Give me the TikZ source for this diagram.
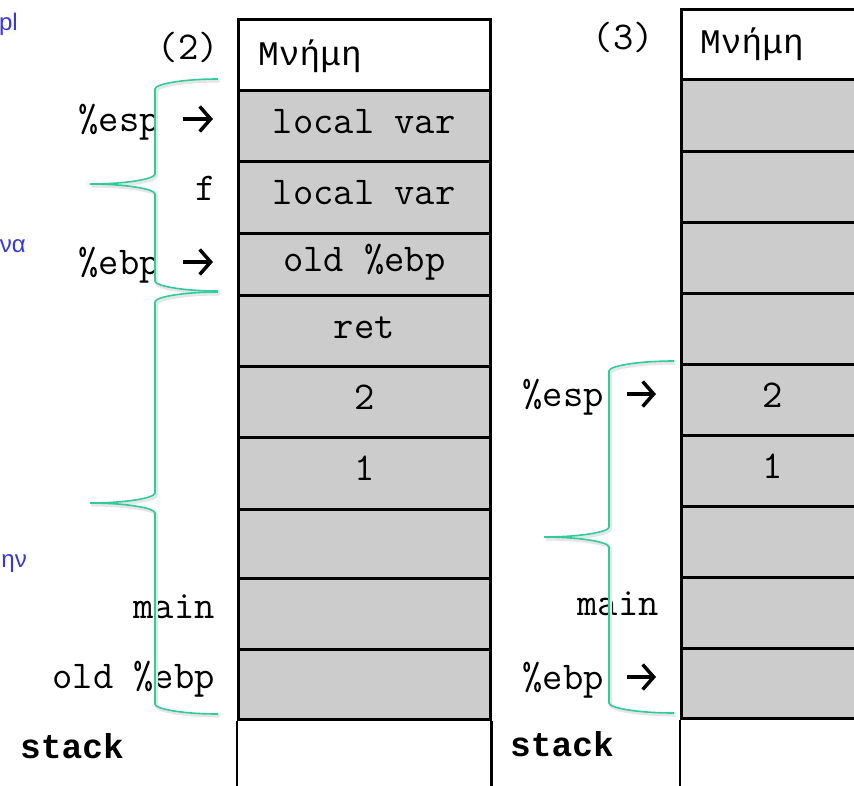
\documentclass[tikz,border=0pt]{standalone}
\usepackage{fontspec}
\usetikzlibrary{arrows.meta}

\newfontfamily\mono{Liberation Mono}
\newfontfamily\sidesans{Liberation Sans}
\newcommand\memfont{\ttfamily\fontsize{39.4}{44}\selectfont}
\newcommand\grfont{\mono\fontsize{34.5}{40}\selectfont}
\newcommand\boldfont{\mono\bfseries\fontsize{34.5}{40}\selectfont}
\newcommand\sidefont{\sidesans\fontsize{24}{28}\selectfont}

\definecolor{cellgray}{RGB}{204,204,204}
\definecolor{bracegreen}{RGB}{46,204,155}
\definecolor{linkblue}{RGB}{56,56,212}

\tikzset{
  cell/.style={draw, line width=2.5pt, fill=cellgray, anchor=north west,
    minimum width=252pt, inner sep=0pt, font=\memfont,
    text height=15pt, text depth=0pt},
  hdr/.style={cell, fill=white},
  lbl/.style={font=\memfont, inner sep=0pt, text height=24pt, text depth=0pt},
  side/.style={font=\sidefont, text=linkblue, inner sep=0pt},
  ptr/.style={-{Straight Barb[length=11pt,width=25pt,line width=3.5pt]}, line width=3.5pt,
    shorten <=23pt, shorten >=24pt},
  brace/.style={draw=bracegreen, line width=1.6pt,
    preaction={draw=black!10, line width=3pt, transform canvas={xshift=1.5pt,yshift=-2pt}}}
}

\begin{document}
\begin{tikzpicture}[x=1pt, y=-1pt]
  \useasboundingbox[fill=white] (0,0) rectangle (854,785);
  \clip (0,0) rectangle (854,785);

  % stack (2)
  \node[hdr, minimum height=71pt] (a0) at (237,18) {};
  \node[cell, minimum height=71pt] (a1) at (237,89) {local var};
  \node[cell, minimum height=72pt] (a2) at (237,160) {local var};
  \node[cell, minimum height=62pt] (a3) at (237,232) {old \%ebp};
  \node[cell, minimum height=71pt] (a4) at (237,294) {ret};
  \node[cell, minimum height=71pt] (a5) at (237,365) {2};
  \node[cell, minimum height=72pt] (a6) at (237,436) {1};
  \node[cell, minimum height=69pt] (a7) at (237,508) {};
  \node[cell, minimum height=71pt] (a8) at (237,577) {};
  \node[cell, minimum height=70pt] (a9) at (237,648) {};
  \draw[line width=2.5pt] (a9.south west) -- ++(0,80) (a9.south east) -- ++(0,80);
  \node[lbl, anchor=west, font=\grfont] (memA) at (258,53) {Μνήμη};

  \node[lbl, anchor=east] (numA) at (219,47) {(2)};
  \node[lbl, anchor=east] (espA) at (160,119) {\%esp};
  \node[lbl, anchor=east] (fA) at (216,188) {f};
  \node[lbl, anchor=east] (ebpA) at (160,262) {\%ebp};
  \node[lbl, anchor=east] (mainA) at (215,606) {main};
  \node[lbl, anchor=east] (oldA) at (215,676) {old \%ebp};
  \node[lbl, anchor=west, font=\boldfont] (stackA) at (20,746) {stack};
  \draw[ptr] (espA.east) -- (espA.east -| a1.west);
  \draw[ptr] (ebpA.east) -- (ebpA.east -| a3.west);

  \path[brace] (218,79) .. controls (183,79) and (155,84) .. (155,89) -- (155,174)
    .. controls (155,179) and (126,184) .. (90,184)
    .. controls (126,184) and (155,189) .. (155,194) -- (155,281)
    .. controls (155,286) and (183,291) .. (218,291);
  \path[brace] (218,292) .. controls (183,292) and (155,297) .. (155,302) -- (155,493)
    .. controls (155,498) and (126,503) .. (90,503)
    .. controls (126,503) and (155,508) .. (155,513) -- (155,704)
    .. controls (155,709) and (183,714) .. (218,714);

  % stack (3)
  \node[hdr, minimum height=70pt, minimum width=182pt] (b0) at (680,8) {};
  \node[cell, minimum height=72pt, minimum width=182pt] (b1) at (680,78) {};
  \node[cell, minimum height=71pt, minimum width=182pt] (b2) at (680,150) {};
  \node[cell, minimum height=71pt, minimum width=182pt] (b3) at (680,221) {};
  \node[cell, minimum height=71pt, minimum width=182pt] (b4) at (680,292) {};
  \node[cell, minimum height=71pt, minimum width=182pt] (b5) at (680,363) {2};
  \node[cell, minimum height=71pt, minimum width=182pt] (b6) at (680,434) {1};
  \node[cell, minimum height=71pt, minimum width=182pt] (b7) at (680,505) {};
  \node[cell, minimum height=71pt, minimum width=182pt] (b8) at (680,576) {};
  \node[cell, minimum height=70pt, minimum width=182pt] (b9) at (680,647) {};
  \draw[line width=2.5pt] (b9.south west) -- ++(0,80);
  \node[lbl, anchor=west, font=\grfont] (memB) at (700,41) {Μνήμη};

  \node[lbl, anchor=east] (numB) at (654,37) {(3)};
  \node[lbl, anchor=east] (espB) at (604,394) {\%esp};
  \node[lbl, anchor=east] (mainB) at (659,603) {main};
  \node[lbl, anchor=east] (ebpB) at (604,677) {\%ebp};
  \node[lbl, anchor=west, font=\boldfont] (stackB) at (510,744) {stack};
  \draw[ptr] (espB.east) -- (espB.east -| b5.west);
  \draw[ptr] (ebpB.east) -- (ebpB.east -| b9.west);

  \path[brace] (674,361) .. controls (638,361) and (609,366) .. (609,371) -- (609,527)
    .. controls (609,532) and (580,537) .. (544,537)
    .. controls (580,537) and (609,542) .. (609,547) -- (609,703)
    .. controls (609,708) and (638,713) .. (674,713);

  % cut-off side text
  \node[side, anchor=base east] (sideA) at (18,30) {pl};
  \node[side, anchor=base east] (sideB) at (26,252) {να};
  \node[side, anchor=base east] (sideC) at (27,567) {ην};
\end{tikzpicture}
\end{document}
